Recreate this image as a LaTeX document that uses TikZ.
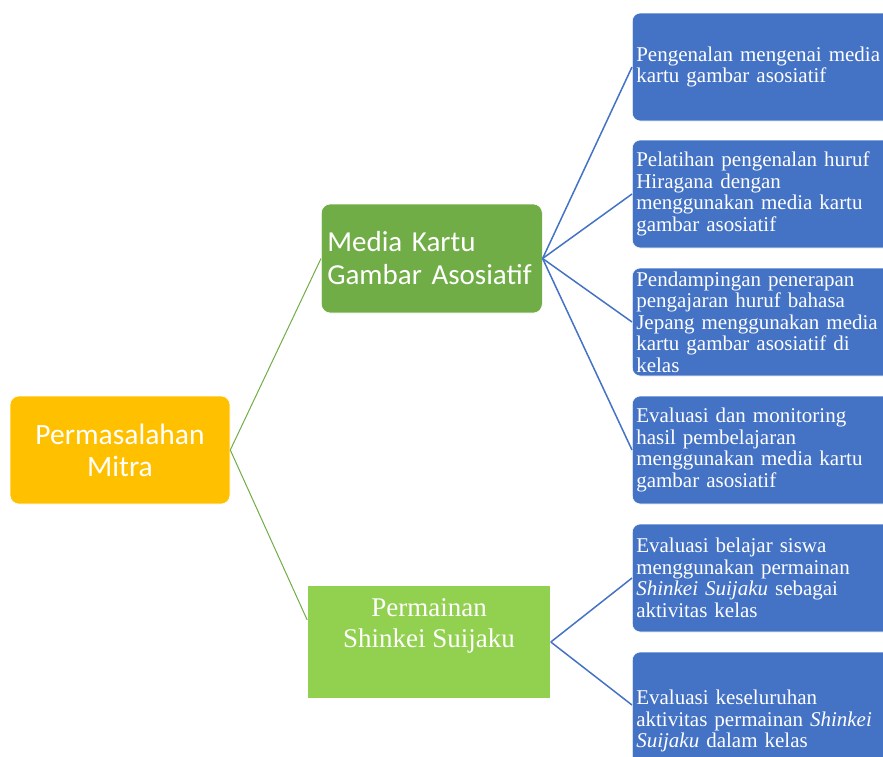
\documentclass[tikz,border=0pt]{standalone}
\usepackage{fontspec}
\setmainfont{Liberation Serif}
\newfontfamily\calfont{Carlito}
\definecolor{amber}{HTML}{FFC000}
\definecolor{mgreen}{HTML}{70AD47}
\definecolor{lgreen}{HTML}{92D050}
\definecolor{sblue}{HTML}{4472C4}
\begin{document}
\begin{tikzpicture}[x=1pt,y=-1pt,
  rootbox/.style={fill=amber, draw=white, line width=0.6pt, rounded corners=9pt,
    minimum width=220pt, minimum height=108pt, inner sep=0pt,
    text=white, align=center, font=\calfont\fontsize{29.5}{32}\selectfont},
  mediabox/.style={fill=mgreen, draw=white, line width=0.6pt, rounded corners=9pt,
    anchor=west, minimum width=221pt, minimum height=109pt, inner xsep=6pt, inner ysep=0pt,
    text width=209pt, text=white, align=left, font=\calfont\fontsize{29}{33}\selectfont},
  permbox/.style={fill=lgreen, draw=white, line width=0.6pt,
    minimum width=243pt, minimum height=113pt, inner sep=0pt},
  permtext/.style={text=white, align=center, inner sep=0pt,
    font=\fontsize{27}{31}\selectfont},
  bluebox/.style={fill=sblue, draw=white, line width=0.6pt, rounded corners=8pt,
    anchor=west, minimum height=108pt, inner xsep=4pt, inner ysep=0pt,
    text width=272pt, text=white, align=left, font=\fontsize{21}{21.5}\selectfont},
  gline/.style={draw=mgreen, line width=1pt},
  bline/.style={draw=sblue, line width=1.5pt}
]
\useasboundingbox (0,0) rectangle (883,756);
\clip (0,0) rectangle (883,756);

\node[rootbox] (root) at (120,450) {Permasalahan\\Mitra};
\node[mediabox] (media) at (321,258.5) {Media Kartu\\Gambar Asosiatif};
\node[permbox] (perm) at (429,642) {};
\node[permtext] (permlabel) at (429,626) {Permainan\\Shinkei Suijaku};

\node[bluebox] (b1) at (632,67) {Pengenalan mengenai media\\kartu gambar asosiatif};
\node[bluebox] (b2) at (632,194) {Pelatihan pengenalan huruf\\Hiragana dengan\\menggunakan media kartu\\gambar asosiatif};
\node[bluebox] (b3) at (632,322) {Pendampingan penerapan\\pengajaran huruf bahasa\\Jepang menggunakan media\\kartu gambar asosiatif di\\kelas};
\node[bluebox] (b4) at (632,450) {Evaluasi dan monitoring\\hasil pembelajaran\\menggunakan media kartu\\gambar asosiatif};
\node[bluebox] (b5) at (632,578) {Evaluasi belajar siswa\\menggunakan permainan\\\textit{Shinkei Suijaku} sebagai\\aktivitas kelas};
\node[bluebox, minimum height=138pt] (b6) at (632,721) {Evaluasi keseluruhan\\aktivitas permainan \textit{Shinkei}\\\textit{Suijaku} dalam kelas};

\draw[gline] (root.east) -- (media.west);
\draw[gline] (root.east) -- ([yshift=22pt]perm.west);
\draw[bline] (media.east) -- (b1.west);
\draw[bline] (media.east) -- (b2.west);
\draw[bline] (media.east) -- (b3.west);
\draw[bline] (media.east) -- (b4.west);
\draw[bline] (perm.east) -- (b5.west);
\draw[bline] (perm.east) -- ([yshift=16pt]b6.west);
\end{tikzpicture}
\end{document}
